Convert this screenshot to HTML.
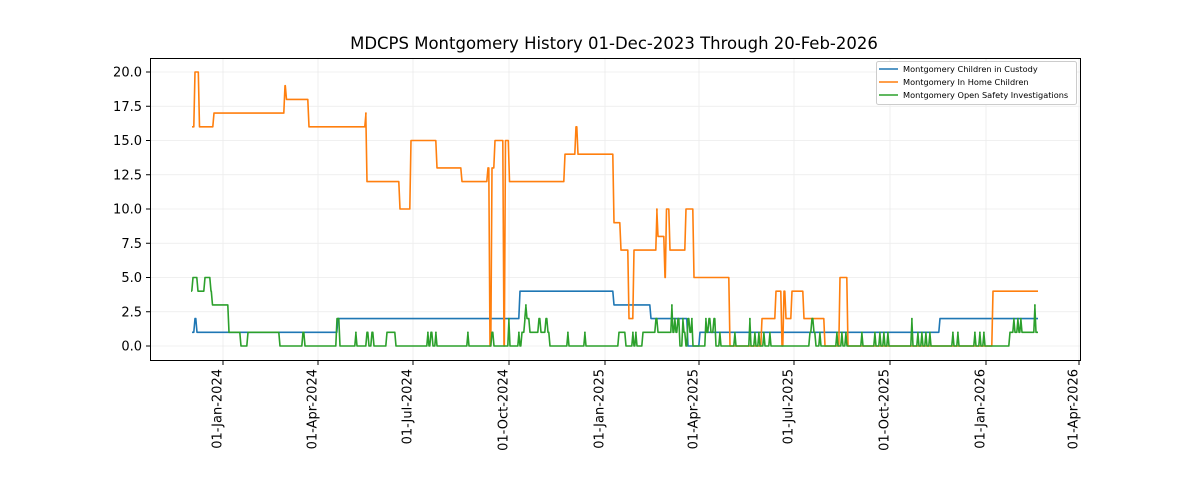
<!DOCTYPE html>
<html><head><meta charset="utf-8"><style>
body{margin:0;background:#fff;width:1200px;height:480px;overflow:hidden;font-family:"Liberation Sans","DejaVu Sans",sans-serif}
</style></head><body>
<svg id="s" width="1200" height="480" xmlns="http://www.w3.org/2000/svg" font-family="DejaVu Sans, Liberation Sans, sans-serif">
<rect width="1200" height="480" fill="#fff"/>
<g id="grid" stroke="#ebebeb" stroke-width="0.8"></g>
<g id="lines" fill="none" stroke-width="1.6" stroke-linejoin="round"></g>
<rect x="150.5" y="58.5" width="930" height="302" fill="none" stroke="#000" stroke-width="1"/>
<g id="ticks" font-size="13" fill="#000"></g>
<text x="614" y="49" font-size="16.5" text-anchor="middle">MDCPS Montgomery History 01-Dec-2023 Through 20-Feb-2026</text>
<g>
<rect x="876.5" y="61.5" width="200" height="43" fill="#fff" stroke="#ccc" rx="2"/>
<line x1="879" y1="69" x2="898" y2="69" stroke="#1f77b4" stroke-width="1.6"/>
<line x1="879" y1="82" x2="898" y2="82" stroke="#ff7f0e" stroke-width="1.6"/>
<line x1="879" y1="95" x2="898" y2="95" stroke="#2ca02c" stroke-width="1.6"/>
<text x="903" y="72" font-size="8.2">Montgomery Children in Custody</text>
<text x="903" y="85" font-size="8.2">Montgomery In Home Children</text>
<text x="903" y="98" font-size="8.2">Montgomery Open Safety Investigations</text>
</g>
</svg>
<script>
const NS="http://www.w3.org/2000/svg";
const Y=v=>346-13.7*v;
const g=document.getElementById('grid'),t=document.getElementById('ticks'),L=document.getElementById('lines');
function el(p,tag,a,txt){const e=document.createElementNS(NS,tag);for(const k in a)e.setAttribute(k,a[k]);if(txt)e.textContent=txt;p.appendChild(e);return e;}
for(let i=0;i<=8;i++){const v=i*2.5,y=Y(v);
 el(g,'line',{x1:151,x2:1080,y1:y,y2:y});
 el(t,'line',{x1:146,x2:150,y1:y,y2:y,stroke:'#000'});
 el(t,'text',{x:142,y:y+4.5,'text-anchor':'end'},v.toFixed(1));}
const xs=[[223,'01-Jan-2024'],[318,'01-Apr-2024'],[413,'01-Jul-2024'],[509,'01-Oct-2024'],[605,'01-Jan-2025'],[699,'01-Apr-2025'],[794,'01-Jul-2025'],[890,'01-Oct-2025'],[986,'01-Jan-2026'],[1079,'01-Apr-2026']];
xs.forEach(([x,s])=>{el(g,'line',{x1:x,x2:x,y1:59,y2:360});
 el(t,'line',{x1:x,x2:x,y1:361,y2:365,stroke:'#000'});
 el(t,'text',{x:0,y:0,transform:`translate(${x-1.5},369) rotate(-90)`,'text-anchor':'end'},s);});
function step(arr,end){let pts=[],cur=null;
 for(let i=0;i<arr.length;i++){const [x,v]=arr[i];
  if(cur!==null)pts.push([x-1.2,cur]);
  pts.push([x,v]);cur=v;}
 pts.push([end,cur]);
 return pts.map(p=>p[0].toFixed(1)+','+Y(p[1]).toFixed(1)).join(' ');}
const blue=[[192,1],[195,2],[197,1],[338,2],[520,4],[614,3],[651,2],[688,0],[700,1],[940,2]];
const orange=[[192,16],[195,20],[199.5,16],[214,17],[285,19],[286.5,18],[309,16],[366,17],[367,12],[400,10],[411,15],[437,13],[462,12],[488,13],[490,0],[492,13],[495,15],[504,0],[505.5,15],[508,15],[509.5,12],[565,14],[576,16],[578,14],[614,9],[621,7],[629,2],[634,7],[657,10],[658,8],[665,5],[666.5,10],[670,7],[686,10],[694,5],[730,0],[762,2],[776,4],[782,0],[784,4],[786,2],[792,4],[804,2],[825,0],[840,5],[848,0],[993,4]];
const green=[[192,4],[193,5],[198,4],[205,5],[211,4],[212.5,3],[229,1],[241,0],[248,1],[280,0],[303,1],[305,0],[337,2],[340,0],[356,1],[357,0],[367,1],[369,0],[372,1],[374,0],[387,1],[396,0],[428,1],[429,0],[431,1],[433,0],[436,1],[437,0],[468,1],[469,0],[492,1],[494,0],[509,2],[510,0],[519,1],[520,0],[522,1],[525,2],[526,3],[527,2],[530,1],[539,2],[541,1],[546,2],[548,1],[550,0],[568,1],[569,0],[585,1],[586,0],[619,1],[626,0],[633,1],[634,0],[636,1],[637,0],[643,1],[656,2],[658,1],[668,1],[672,3],[673,1],[675,2],[676,1],[678,2],[680,0],[683,2],[684,1],[686,0],[688,2],[690,1],[692,2],[693,0],[706,2],[707,1],[709,2],[711,1],[714,2],[716,0],[720,1],[721,0],[735,1],[736,0],[750,2],[751,0],[755,1],[756,0],[759,1],[760,0],[764,1],[765,0],[770,1],[771,0],[810,1],[812,2],[814,1],[816,0],[820,1],[821,0],[837,1],[838,0],[842,1],[843,0],[846,1],[847,0],[862,1],[863,0],[875,1],[876,0],[880,1],[881,0],[884,1],[885,0],[888,1],[889,0],[912,2],[913,0],[918,1],[919,0],[922,1],[923,0],[926,1],[927,0],[930,1],[931,0],[953,1],[954,0],[958,1],[959,0],[975,1],[976,0],[980,1],[981,0],[984,1],[985,0],[1010,1],[1014,2],[1015,1],[1018,2],[1019,1],[1021,2],[1022,1],[1035,3],[1036,1]];
[[blue,'#1f77b4'],[orange,'#ff7f0e'],[green,'#2ca02c']].forEach(([d,c])=>el(L,'polyline',{points:step(d,1038),stroke:c}));
</script>
</body></html>
